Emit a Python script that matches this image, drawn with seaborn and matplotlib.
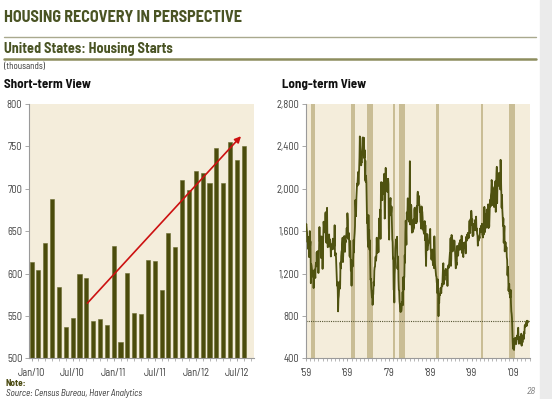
import numpy as np
import pandas as pd
import matplotlib
matplotlib.use("Agg")
import matplotlib.pyplot as plt
import seaborn as sns
from matplotlib.ticker import FuncFormatter, MultipleLocator

# ---------------- data ----------------
# Short-term view: monthly housing starts, Jan 2010 - Aug 2012 (thousands, SAAR)
short_labels = ["Jan/10", "Jul/10", "Jan/11", "Jul/11", "Jan/12", "Jul/12"]
short_values = [614, 604, 636, 688, 584, 537, 547, 599, 595, 544, 546, 539,
                632, 519, 601, 553, 552, 616, 615, 581, 648, 631, 710, 698,
                721, 719, 707, 748, 707, 755, 734, 751]
trend_start = [8.15, 565]
trend_end = [30.6, 762]

# Long-term view: monthly housing starts from Jan 1959 (thousands, SAAR)
starts_1959_1968 = [
    1657, 1667, 1620, 1590, 1498, 1503, 1547, 1430, 1540, 1355, 1416, 1601,
    1460, 1503, 1109, 1289, 1271, 1247, 1220, 1172, 1194, 1225, 1063, 1163,
    1171, 1238, 1208, 1158, 1269, 1302, 1268, 1401, 1269, 1393, 1412, 1350,
    1205, 1298, 1453, 1639, 1503, 1548, 1516, 1527, 1346, 1550, 1490, 1530,
    1244, 1456, 1534, 1689, 1641, 1588, 1614, 1639, 1763, 1779, 1622, 1491,
    1603, 1820, 1517, 1448, 1467, 1550, 1562, 1569, 1455, 1524, 1486, 1484,
    1361, 1433, 1423, 1438, 1478, 1488, 1529, 1432, 1482, 1452, 1460, 1656,
    1370, 1378, 1394, 1352, 1265, 1194, 1086, 1119, 1046, 843, 961, 990,
    1067, 1123, 1056, 1091, 1304, 1248, 1364, 1407, 1421, 1491, 1538, 1308,
    1380, 1520, 1466, 1554, 1408, 1405, 1512, 1495, 1556, 1569, 1630, 1548]
starts_1969_1978 = [
    1769, 1705, 1561, 1524, 1583, 1528, 1368, 1358, 1507, 1381, 1229, 1327,
    1085, 1305, 1319, 1264, 1290, 1385, 1517, 1399, 1534, 1580, 1647, 1893,
    1828, 1741, 1910, 1986, 2049, 2026, 2083, 2158, 2041, 2128, 2182, 2295,
    2494, 2390, 2334, 2249, 2221, 2254, 2252, 2382, 2481, 2485, 2421, 2366,
    2481, 2289, 2365, 2084, 2266, 2067, 2123, 2051, 1874, 1677, 1724, 1526,
    1451, 1752, 1555, 1607, 1426, 1513, 1316, 1142, 1150, 1070, 1026, 975,
    1032, 904, 993, 1005, 1121, 1087, 1226, 1260, 1264, 1344, 1360, 1321,
    1367, 1538, 1421, 1395, 1459, 1495, 1401, 1550, 1720, 1629, 1641, 1804,
    1527, 1943, 2063, 1892, 1971, 1893, 2058, 2020, 1949, 2042, 2042, 2142,
    1718, 1738, 2032, 2197, 2075, 2070, 2092, 1996, 1970, 1981, 2094, 2044]
starts_1979_1988 = [
    1630, 1520, 1847, 1748, 1876, 1913, 1760, 1778, 1832, 1681, 1524, 1498,
    1341, 1350, 1047, 1051, 927, 1196, 1269, 1436, 1471, 1523, 1510, 1482,
    1547, 1246, 1306, 1360, 1140, 1045, 1041, 940, 911, 873, 837, 910,
    843, 866, 931, 917, 1025, 902, 1166, 1046, 1144, 1173, 1372, 1303,
    1586, 1699, 1606, 1472, 1776, 1733, 1785, 1910, 1710, 1715, 1785, 1688,
    1897, 2260, 1663, 1851, 1774, 1843, 1732, 1586, 1698, 1590, 1689, 1612,
    1711, 1632, 1800, 1821, 1680, 1676, 1684, 1743, 1676, 1834, 1698, 1942,
    1972, 1848, 1876, 1933, 1854, 1847, 1782, 1807, 1687, 1681, 1623, 1833,
    1774, 1784, 1726, 1614, 1628, 1594, 1575, 1605, 1695, 1515, 1656, 1400,
    1271, 1473, 1532, 1573, 1421, 1478, 1467, 1493, 1492, 1522, 1569, 1563]
starts_1989_1998 = [
    1621, 1425, 1422, 1339, 1331, 1397, 1427, 1332, 1279, 1410, 1351, 1251,
    1551, 1437, 1289, 1248, 1212, 1177, 1171, 1115, 1110, 1014, 1145, 969,
    798, 965, 921, 1001, 996, 1036, 1063, 1049, 1015, 1079, 1103, 1079,
    1176, 1250, 1297, 1099, 1214, 1145, 1139, 1226, 1186, 1244, 1214, 1227,
    1210, 1210, 1083, 1258, 1260, 1280, 1254, 1300, 1343, 1392, 1376, 1533,
    1272, 1337, 1564, 1465, 1526, 1409, 1439, 1450, 1474, 1450, 1511, 1455,
    1407, 1316, 1249, 1267, 1302, 1281, 1461, 1416, 1369, 1369, 1452, 1431,
    1467, 1491, 1424, 1516, 1504, 1467, 1472, 1557, 1475, 1392, 1489, 1370,
    1355, 1486, 1457, 1492, 1442, 1494, 1437, 1390, 1546, 1520, 1510, 1566,
    1525, 1584, 1567, 1540, 1536, 1641, 1698, 1614, 1582, 1715, 1660, 1792]
starts_1999_2009 = [
    1748, 1670, 1710, 1553, 1611, 1559, 1669, 1648, 1635, 1608, 1648, 1708,
    1636, 1737, 1604, 1626, 1575, 1559, 1463, 1541, 1507, 1549, 1551, 1532,
    1600, 1625, 1590, 1649, 1605, 1636, 1670, 1567, 1562, 1540, 1602, 1568,
    1698, 1829, 1642, 1592, 1764, 1717, 1655, 1633, 1804, 1648, 1753, 1788,
    1853, 1629, 1726, 1643, 1751, 1867, 1897, 1833, 1939, 1967, 2083, 2057,
    1911, 1846, 1998, 2003, 1981, 1828, 2002, 2024, 1905, 2072, 1782, 2042,
    2144, 2207, 1864, 2061, 2025, 2068, 2054, 2095, 2151, 2065, 2147, 1994,
    2273, 2119, 1969, 1821, 1942, 1802, 1737, 1650, 1720, 1491, 1570, 1649,
    1409, 1480, 1495, 1490, 1415, 1448, 1354, 1330, 1183, 1264, 1197, 1037,
    1084, 1103, 1005, 1013, 973, 1046, 923, 844, 820, 777, 652, 560,
    490, 582, 505, 478, 540, 585, 594, 586, 585, 534, 588, 581]

# NBER recessions (start, end)
recessions = [("1960-04", "1961-02"), ("1969-12", "1970-11"), ("1973-11", "1975-03"),
              ("1980-01", "1980-07"), ("1981-07", "1982-11"), ("1990-07", "1991-03"),
              ("2001-03", "2001-11"), ("2007-12", "2009-06")]
long_ticks = [1959, 1969, 1979, 1989, 1999, 2009]
long_tick_labels = ["'59", "'69", "'79", "'89", "'99", "'09"]
reference_level = 750

# ---------------- styling ----------------
sns.set_theme(style="white")
HEAD = ["Barlow Semi Condensed", "DejaVu Sans"]
BODY = ["Barlow Semi Condensed", "Liberation Sans", "DejaVu Sans"]
plt.rcParams["font.family"] = BODY

OLIVE_TXT = "#4a5424"
BAR = "#4b4c0c"
LINE = "#4f5210"
BG = "#f4eddb"
REC = "#c9bd95"
GRID_TXT = "#444444"

fig = plt.figure(figsize=(5.52, 3.99), dpi=100)
W, H = 552, 399


def fx(px):
    return px / W


def fy(py):
    return 1 - py / H


# right grey strip
fig.patches.append(plt.Rectangle((fx(540), 0), 1 - fx(540), 1, transform=fig.transFigure,
                                 color="#ebebeb", zorder=0))

# header texts
fig.text(fx(4), fy(21.5), "HOUSING RECOVERY IN PERSPECTIVE", fontsize=11.6, fontweight=700,
         family=HEAD, color=OLIVE_TXT, va="baseline", ha="left")
fig.add_artist(plt.Line2D([fx(4), fx(536)], [fy(37), fy(37)], transform=fig.transFigure,
                          color="#a9a98e", lw=1.0))
fig.text(fx(4), fy(53), "United States: Housing Starts", fontsize=10.2, fontweight=700,
         family=HEAD, color=OLIVE_TXT, va="baseline", ha="left")
fig.add_artist(plt.Line2D([fx(4), fx(536)], [fy(59), fy(59)], transform=fig.transFigure,
                          color="#8d8d5e", lw=1.8))
fig.text(fx(4), fy(69), "(thousands)", fontsize=6.5, color="#333333", va="baseline", ha="left")
fig.text(fx(4), fy(88), "Short-term View", fontsize=9.3, fontweight=700, family=HEAD,
         color="#111111", va="baseline", ha="left")
fig.text(fx(282), fy(88), "Long-term View", fontsize=9.3, fontweight=700, family=HEAD,
         color="#111111", va="baseline", ha="left")
fig.text(fx(6), fy(386), "Note:", fontsize=6.6, fontweight="bold", color="#4a4a10",
         va="baseline", ha="left")
fig.text(fx(6), fy(396), "Source: Census Bureau, Haver Analytics", fontsize=6.6,
         style="italic", color="#333333", va="baseline", ha="left")
fig.text(fx(536), fy(394), "28", fontsize=7.2, style="italic", color="#777777",
         va="baseline", ha="right")

# ---------------- left: short-term ----------------
ax1 = fig.add_axes([fx(29.3), fy(358.3), fx(254 - 29.3), (358.3 - 104) / H])
ax1.set_facecolor(BG)
df_s = pd.DataFrame({"idx": np.arange(len(short_values)), "value": short_values})
sns.barplot(data=df_s, x="idx", y="value", color=BAR, width=0.6, saturation=1,
            edgecolor="#6a6b30", linewidth=0.4, ax=ax1, native_scale=True)
ax1.set_ylim(500, 800)
ax1.set_xlim(-0.33, 32.5)
ax1.set_yticks(np.arange(500, 801, 50))
ax1.set_xticks(np.arange(0, len(short_values), 6))
ax1.set_xticklabels(short_labels)
ax1.xaxis.set_minor_locator(MultipleLocator(1))
ax1.set_xlabel("")
ax1.set_ylabel("")
ax1.annotate("", xy=tuple(trend_end), xytext=tuple(trend_start),
             arrowprops=dict(arrowstyle="-|>", color="#cc1111", lw=1.2,
                             mutation_scale=9, shrinkA=0, shrinkB=0))

# ---------------- right: long-term ----------------
ax2 = fig.add_axes([fx(306), fy(358.3), fx(530 - 306), (358.3 - 104) / H])
ax2.set_facecolor(BG)
long_values = (starts_1959_1968 + starts_1969_1978 + starts_1979_1988 +
               starts_1989_1998 + starts_1999_2009 + short_values)
dates = pd.date_range("1959-01-01", periods=len(long_values), freq="MS")
dec_year = dates.year + (dates.month - 1) / 12
df_l = pd.DataFrame({"year": dec_year, "value": long_values})


def to_dec(s):
    d = pd.Timestamp(s + "-01")
    return d.year + (d.month - 1) / 12


for s, e in recessions:
    ax2.axvspan(to_dec(s), to_dec(e), color=REC, lw=0, zorder=0.5)
sns.lineplot(data=df_l, x="year", y="value", color=LINE, lw=1.3, ax=ax2, zorder=3)
ax2.axhline(reference_level, color="#555533", lw=0.8, ls=(0, (1, 1)), zorder=2)
ax2.set_xlim(1959, 2013.1)
ax2.set_ylim(400, 2800)
ax2.set_yticks(np.arange(400, 2801, 400))
ax2.yaxis.set_major_formatter(FuncFormatter(lambda v, p: f"{int(v):,}"))
ax2.set_xticks(long_ticks)
ax2.set_xticklabels(long_tick_labels)
ax2.xaxis.set_minor_locator(MultipleLocator(1))
ax2.set_xlabel("")
ax2.set_ylabel("")

for ax in (ax1, ax2):
    for side in ("top", "right"):
        ax.spines[side].set_visible(False)
    for side in ("left", "bottom"):
        ax.spines[side].set_color("#9a9a9a")
        ax.spines[side].set_linewidth(0.8)
    ax.tick_params(axis="both", which="major", labelsize=7.6, colors="#9a9a9a",
                   labelcolor=GRID_TXT, length=3, width=0.6, direction="out",
                   bottom=True, left=True, pad=2)
    ax.tick_params(axis="x", which="minor", length=2, width=0.5, colors="#9a9a9a", bottom=True)
    ax.tick_params(axis="x", which="major", length=2, pad=5)
    ax.grid(False)

fig.savefig("out.png", dpi=100)
